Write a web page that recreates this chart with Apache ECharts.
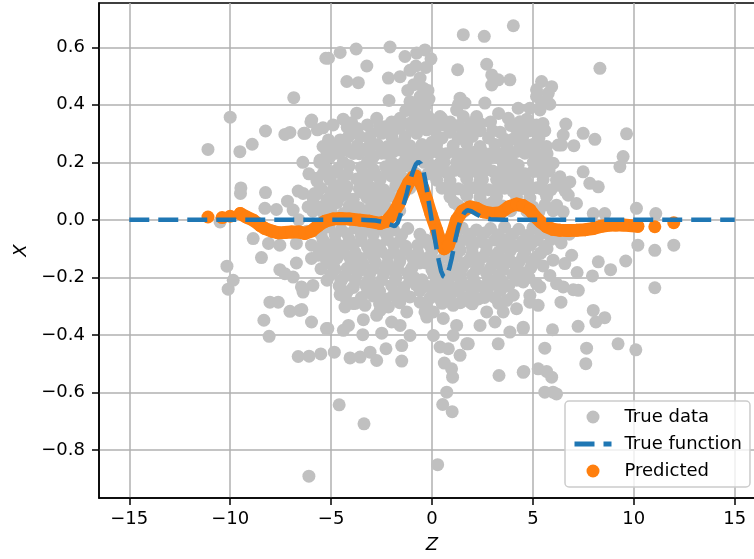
<!DOCTYPE html>
<html><head><meta charset="utf-8">
<script src="https://cdn.jsdelivr.net/npm/echarts@6/dist/echarts.min.js"></script>
<style>html,body{margin:0;padding:0;background:#fff}#c{width:754px;height:559px}</style>
</head><body><div id="c"></div>
<script>
// tick labels
const xTicks = [-15, -10, -5, 0, 5, 10, 15];
const yTicks = [-0.8, -0.6, -0.4, -0.2, 0.0, 0.2, 0.4, 0.6];

// gray noisy observations [Z, X]
const trueDataLeft = [
  [-11.1,0.245],[-10.0,0.357],[-9.52,0.237],[-8.91,0.263],[-8.25,0.309],[-7.29,0.297],[-7.04,0.304],[-6.85,0.425],[-6.35,0.301],[-6.0,0.341],[-5.68,0.313],[-5.96,0.347],[-6.29,0.301],
  [-5.56,0.2],[-9.47,0.111],[-9.49,0.092],[-8.25,0.095],[-5.7,0.135],[-6.63,0.1],[-6.39,0.092],[-5.81,0.092],[-7.16,0.065],[-6.88,0.034],[-6.14,0.045],[-8.28,0.04],[-7.71,0.036],
  [-10.5,-0.007],[-8.86,-0.065],[-8.1,-0.082],[-7.54,-0.088],[-6.72,-0.082],[-5.97,-0.088],
  [-10.16,-0.161],[-9.85,-0.21],[-10.1,-0.241],[-8.45,-0.131],[-7.54,-0.173],[-7.29,-0.187],[-6.88,-0.199],[-6.72,-0.15],[-5.97,-0.134],[-5.64,-0.123],[-6.47,-0.233],[-6.39,-0.251],
  [-8.03,-0.286],[-7.62,-0.286],[-7.04,-0.318],[-6.55,-0.315],[-8.33,-0.349],[-5.97,-0.355],[-8.07,-0.405],[-6.63,-0.475],[-6.09,-0.474],[-5.51,-0.466],[-5.23,-0.378],[-6.1,-0.891],
  [-6.45,-0.312],[-5.9,-0.228],[-6.2,-0.04],[-6.6,0.0],[-6.1,0.16],[-6.4,0.2]
];
const trueDataTop = [
  [-5.26,0.562],[-5.13,0.562],[-4.55,0.582],[-3.76,0.594],[-3.23,0.535],[-4.22,0.481],[-3.65,0.477],[-2.08,0.601],[-1.34,0.568],[-0.76,0.58],[-0.35,0.591],
  [-2.16,0.493],[-1.58,0.498],[-1.09,0.52],[-0.59,0.493],[-0.43,0.458],[-0.59,0.429],[-1.0,0.406],[-0.84,0.365],[-2.13,0.415],[-1.09,0.411],[-0.59,0.417],[-0.35,0.394],
  [-3.73,0.371],[-3.98,0.338],[-2.74,0.353],[-2.33,0.324],[-1.58,0.353],[-1.09,0.336],[-0.59,0.347],[0.4,0.359],
  [-0.2,0.45],[-0.9,0.47],[-0.3,0.53],[-0.8,0.535],[-0.15,0.42],[-0.7,0.385],[-0.25,0.33],[-1.2,0.45],[-0.05,0.56],[-1.3,0.38],[-0.4,0.36],
  [1.55,0.644],[2.59,0.638],[4.03,0.675],[1.27,0.522],[2.71,0.541],[2.96,0.504],[3.28,0.487],[3.86,0.487],[2.96,0.469],[5.43,0.481],[5.18,0.452],[5.76,0.44],[5.76,0.406],
  [1.39,0.423],[1.3,0.4],[1.63,0.406],[2.62,0.406],[1.22,0.382],[4.27,0.388],[4.85,0.388],[5.35,0.382],[0.48,0.353],[1.55,0.359],[2.21,0.359],[3.78,0.353],[4.36,0.341],[5.18,0.33],
  [8.32,0.527],[5.93,0.463],[5.18,0.429],[5.43,0.406],[5.84,0.402]
];
const trueDataRight = [
  [6.63,0.333],[6.5,0.295],[6.42,0.26],[7.03,0.258],[7.49,0.301],[8.07,0.28],[9.64,0.299],[9.47,0.22],[9.31,0.185],[5.1,0.324],[5.18,0.266],[5.18,0.208],[6.0,0.197],
  [5.76,0.173],[6.34,0.15],[6.83,0.132],[7.49,0.167],[7.82,0.127],[8.24,0.115],[6.75,0.086],[7.16,0.057],[6.17,0.051],[6.5,0.028],[7.99,0.022],[8.56,0.022],[10.13,0.04],[11.09,0.022],[6.25,0.26],
  [10.2,-0.088],[11.04,-0.106],[11.98,-0.088],[11.04,-0.236],[9.6,-0.143],[8.85,-0.173],[8.24,-0.146],[7.95,-0.195],[7.19,-0.183],[7.99,-0.315],[8.56,-0.34],[8.12,-0.355],[7.24,-0.37],
  [5.97,-0.382],[9.22,-0.431],[10.1,-0.452],[7.66,-0.446],[7.62,-0.5],[5.59,-0.446],[4.55,-0.527],[5.26,-0.518],[5.68,-0.527],[5.93,-0.547],[5.59,-0.599],[6.0,-0.599],[6.17,-0.605],
  [6.39,-0.286],[7.0,-0.243],[7.25,-0.245],[5.26,-0.297],[4.52,-0.378],[4.93,-0.146],[5.35,-0.117],[6.0,-0.14],[6.58,-0.152],[6.92,-0.123],[5.84,-0.193],[6.17,-0.222],[6.5,-0.233],
  [5.18,-0.222],[4.85,-0.262],[6.4,-0.08],[6.8,-0.05],[6.6,0.1],[6.3,0.12]
];
const trueDataBottom = [
  [-4.6,-0.643],[-3.37,-0.709],[0.28,-0.851],[0.53,-0.642],[1.0,-0.667],[0.73,-0.599],[3.32,-0.541],[4.52,-0.53],[0.61,-0.498],[0.97,-0.518],[1.02,-0.547],[3.28,-0.431],
  [1.72,-0.431],[1.39,-0.471],[0.4,-0.442],[0.81,-0.448],[0.07,-0.402],[1.05,-0.402],[-1.5,-0.491],[-2.74,-0.489],[-3.07,-0.46],[-3.56,-0.477],[-4.06,-0.48],[-4.84,-0.46],
  [-2.28,-0.448],[-1.5,-0.437],[-1.09,-0.402],[-2.49,-0.394],[-3.43,-0.399],[-4.39,-0.384],[-4.14,-0.367],[-5.16,-0.378],[-0.26,-0.338],[-0.35,-0.32],[-3.4,-0.347],
  [-2.74,-0.332],[-2.0,-0.355],[-1.58,-0.367],[-1.25,-0.32],[-4.31,-0.303],[-3.9,-0.291],[-3.32,-0.297],[-2.57,-0.315],[-2.16,-0.303],[-4.55,-0.26],[-1.92,-0.262],[-1.34,-0.262],
  [-0.59,-0.286],[0.07,-0.32],[0.56,-0.343],[1.22,-0.367],[2.38,-0.367],[3.12,-0.355],[3.86,-0.39],[4.52,-0.373],[0.4,-0.274],[1.05,-0.297],[1.88,-0.286],[2.71,-0.32],
  [3.53,-0.32],[4.19,-0.309],[4.85,-0.286],[5.35,-0.233],[1.39,-0.228],[2.05,-0.233],[2.71,-0.251],[3.53,-0.228],[4.03,-0.262],[4.52,-0.216],[1.8,-0.431]
];
const trueDataCoreUpper = [
  [-5.13,0.278],[-4.55,0.278],[-4.14,0.289],[-3.56,0.289],[-3.07,0.278],[-2.49,0.301],[-2.0,0.289],[-1.34,0.289],[-0.76,0.301],[-0.26,0.313],[0.23,0.324],
  [-5.54,0.208],[-5.05,0.22],[-4.39,0.243],[-3.9,0.231],[-3.4,0.243],[-2.9,0.22],[-2.24,0.231],[-1.58,0.243],[-0.92,0.22],[-0.26,0.231],[0.23,0.243],
  [-5.7,0.145],[-5.05,0.14],[-4.39,0.15],[-3.73,0.142],[-3.15,0.148],[-2.57,0.14],[-2.0,0.152],[-1.42,0.145],
  [-5.89,0.075],[-5.21,0.07],[-4.55,0.08],[-3.9,0.072],[-3.23,0.078],[-2.57,0.07],[-2.08,0.082],
  [-5.4,0.027],[-4.39,0.022],[-3.4,0.03],[-2.74,0.025],
  [-5.4,0.255],[-4.8,0.25],[-4.3,0.262],[-3.7,0.258],[-3.2,0.25],[-2.7,0.262],[-2.2,0.255],[-1.7,0.265],[-1.1,0.258],[-0.5,0.262],[0.0,0.27],
  [-5.3,0.18],[-4.7,0.175],[-4.1,0.188],[-3.5,0.182],[-2.9,0.175],[-2.3,0.185],[-1.8,0.19],[-1.2,0.188],[-0.4,0.2],[-0.05,0.19],
  [-5.5,0.11],[-4.9,0.105],[-4.2,0.115],[-3.6,0.108],[-3.0,0.112],[-2.4,0.105],[-1.8,0.118],[-1.1,0.11],
  [-5.6,0.045],[-5.0,0.05],[-4.1,0.048],[-3.6,0.042],[-3.0,0.05],[-2.3,0.045],
  [-5.4,0.32],[-4.2,0.322],[-3.7,0.318],[-2.6,0.325],[-1.6,0.32],[-1.0,0.315],[-0.5,0.322],[0.0,0.33],
  [-5.2,0.235],[-4.7,0.232],[-4.1,0.238],[-3.6,0.23],[-3.1,0.236],[-2.5,0.232],[-1.9,0.238],[-1.3,0.23],[-0.6,0.236],[-0.1,0.232],
  [-5.4,0.16],[-4.8,0.165],[-4.2,0.158],[-3.4,0.162],[-2.8,0.158],[-2.2,0.165],[-1.6,0.16],[-0.9,0.165],[-0.2,0.16],
  [-5.7,0.09],[-5.0,0.092],[-4.3,0.088],[-3.4,0.094],[-2.8,0.088],[-2.2,0.092],[-1.5,0.09],
  [-5.9,0.03],[-5.0,0.032],[-3.9,0.028],[-3.1,0.034],[-2.2,0.03],[-1.6,0.032],
  [0.15,0.31],[0.89,0.305],[1.8,0.315],[2.38,0.31],[3.37,0.305],[4.19,0.315],[4.85,0.31],[5.59,0.31],
  [0.23,0.262],[1.05,0.258],[1.72,0.265],[2.38,0.255],[3.12,0.262],[3.7,0.258],[4.36,0.265],[5.18,0.27],[5.68,0.255],
  [0.4,0.197],[1.22,0.2],[2.04,0.195],[2.71,0.205],[3.53,0.197],[4.27,0.19],[5.02,0.2],[5.59,0.197],
  [0.23,0.138],[0.89,0.135],[1.72,0.142],[2.38,0.135],[3.2,0.14],[4.03,0.138],[4.69,0.132],[5.51,0.14],[6.17,0.138],
  [0.89,0.08],[1.72,0.083],[2.38,0.078],[3.2,0.082],[4.19,0.08],[4.85,0.076],[5.68,0.082],
  [0.5,0.285],[1.3,0.282],[2.0,0.29],[2.8,0.285],[3.6,0.28],[4.5,0.29],[5.3,0.285],
  [0.7,0.23],[1.4,0.228],[2.1,0.235],[2.9,0.23],[3.8,0.225],[4.6,0.232],[5.3,0.228],
  [0.7,0.165],[1.5,0.168],[2.3,0.162],[3.0,0.17],[3.8,0.165],[4.6,0.16],[5.3,0.168],
  [0.5,0.11],[1.3,0.108],[2.0,0.112],[2.8,0.105],[3.6,0.11],[4.4,0.108],[5.2,0.112],[5.9,0.105],
  [1.3,0.05],[2.0,0.045],[2.7,0.052],[3.5,0.048],[4.3,0.05],[5.0,0.045],[5.6,0.052],
  [0.6,0.33],[1.3,0.328],[2.4,0.335],[3.9,0.328],[4.4,0.322],[5.0,0.33],[5.5,0.335],
  [0.3,0.235],[1.0,0.238],[1.8,0.232],[2.5,0.236],[3.3,0.23],[4.2,0.238],[5.0,0.234],[5.7,0.23],
  [0.3,0.17],[1.1,0.172],[1.9,0.168],[2.6,0.172],[3.4,0.168],[4.2,0.174],[5.0,0.168],[5.8,0.17],
  [0.9,0.1],[1.6,0.102],[2.4,0.098],[3.2,0.104],[4.0,0.1],[4.8,0.098],[5.5,0.104],
  [1.6,0.03],[2.3,0.032],[3.1,0.028],[3.9,0.032],[4.7,0.03],[5.3,0.028],[6.0,0.032],
  [-4.9,0.33],[-4.4,0.35],[-3.2,0.33],[-2.0,0.34],[-0.2,0.36],[0.9,0.34],[1.9,0.335],[2.9,0.34],[3.3,0.37],[4.0,0.33],[4.7,0.35],
  [-4.4,0.2],[-3.2,0.2],[-2.0,0.2],[-0.8,0.16],[-4.6,0.12],[-3.3,0.12],[-2.6,0.1],[-1.4,0.2],[-0.5,0.24],[0.6,0.2],[1.6,0.2],[2.4,0.2],[3.2,0.22],[4.0,0.2],
  [4.9,0.26],[1.5,0.3],[3.0,0.31],[4.0,0.28],[-3.0,0.3],[-4.0,0.31],[-1.9,0.31],[2.5,0.14],[3.6,0.13],[4.4,0.14],[1.1,0.06],[3.0,0.06],[-4.7,0.06],[-2.6,0.05]
];
const trueDataCoreLower = [
  [-5.8,-0.03],[-5.1,-0.025],[-4.5,-0.035],[-3.8,-0.028],[-3.2,-0.032],[-2.6,-0.025],[-1.9,-0.035],[-1.2,-0.03],[1.5,-0.028],[2.2,-0.035],[2.9,-0.03],[3.6,-0.025],[4.3,-0.033],[5.0,-0.028],[5.7,-0.035],
  [-5.4,-0.07],[-4.8,-0.075],[-4.1,-0.068],[-3.5,-0.072],[-2.9,-0.078],[-2.2,-0.068],[-1.6,-0.074],[-0.3,-0.07],[1.0,-0.072],[1.7,-0.068],[2.4,-0.075],[3.1,-0.07],[3.8,-0.066],[4.5,-0.074],[5.2,-0.07],[5.9,-0.068],
  [-5.0,-0.11],[-4.4,-0.105],[-3.8,-0.115],[-3.1,-0.108],[-1.9,-0.112],[-1.3,-0.105],[-0.7,-0.115],[0.0,-0.11],[0.9,-0.112],[1.4,-0.105],[2.0,-0.115],[2.7,-0.108],[3.3,-0.112],[3.9,-0.105],[4.6,-0.11],[5.4,-0.115],
  [-5.2,-0.15],[-4.0,-0.145],[-3.4,-0.155],[-2.8,-0.148],[-2.2,-0.152],[-1.6,-0.145],[-0.9,-0.155],[-0.3,-0.15],[0.3,-0.145],[1.0,-0.152],[1.7,-0.148],[2.3,-0.155],[3.0,-0.145],[3.6,-0.152],[4.3,-0.148],
  [-5.0,-0.19],[-4.3,-0.195],[-3.7,-0.185],[-3.1,-0.192],[-2.4,-0.188],[-1.8,-0.195],[-1.2,-0.185],[0.1,-0.19],[0.7,-0.195],[1.4,-0.188],[2.0,-0.192],[2.7,-0.185],[3.3,-0.195],[4.0,-0.19],[4.6,-0.185],
  [-4.6,-0.23],[-3.9,-0.235],[-3.3,-0.225],[-2.7,-0.232],[-2.0,-0.228],[-1.4,-0.235],[-0.8,-0.225],[-0.2,-0.232],[0.4,-0.228],[1.0,-0.235],[1.7,-0.228],[2.4,-0.232],[3.0,-0.225],
  [-3.5,-0.27],[-2.9,-0.265],[-2.3,-0.275],[-1.1,-0.268],[-0.1,-0.272],[0.9,-0.265],[2.3,-0.275],[3.1,-0.27],
  [-5.5,-0.05],[-4.8,-0.052],[-4.2,-0.048],[-3.5,-0.054],[-2.9,-0.05],[-2.3,-0.046],[-1.5,-0.052],[-0.6,-0.05],[0.2,-0.048],[1.2,-0.054],[1.9,-0.05],[2.6,-0.046],[3.3,-0.052],[4.0,-0.05],[4.7,-0.054],[5.4,-0.048],[6.1,-0.05],
  [-5.1,-0.09],[-4.5,-0.092],[-3.9,-0.088],[-3.2,-0.094],[-2.6,-0.09],[-1.9,-0.086],[-1.3,-0.092],[-0.7,-0.088],[0.4,-0.092],[1.3,-0.09],[2.0,-0.094],[2.7,-0.088],[3.5,-0.092],[4.2,-0.09],[4.9,-0.086],[5.6,-0.092],
  [-5.3,-0.13],[-4.7,-0.132],[-4.1,-0.128],[-3.5,-0.134],[-2.9,-0.13],[-2.2,-0.126],[-1.6,-0.132],[-1.0,-0.128],[-0.3,-0.134],[0.6,-0.13],[1.2,-0.128],[1.9,-0.134],[2.5,-0.13],[3.2,-0.126],[3.8,-0.132],[4.5,-0.128],[5.1,-0.134],
  [-5.5,-0.17],[-4.8,-0.172],[-4.2,-0.168],[-3.6,-0.174],[-2.9,-0.17],[-2.3,-0.166],[-1.7,-0.172],[-1.0,-0.168],[0.0,-0.174],[0.8,-0.17],[1.5,-0.166],[2.2,-0.172],[2.9,-0.168],[3.5,-0.174],[4.2,-0.17],[4.9,-0.166],
  [-5.2,-0.21],[-4.5,-0.212],[-3.8,-0.208],[-3.1,-0.214],[-2.5,-0.21],[-1.8,-0.206],[-1.1,-0.212],[-0.5,-0.208],[0.2,-0.214],[0.8,-0.21],[1.4,-0.206],[2.1,-0.212],[2.8,-0.208],[3.5,-0.214],[4.2,-0.21],
  [-4.2,-0.25],[-3.2,-0.252],[-2.6,-0.248],[-1.7,-0.254],[-1.4,-0.25],[-0.6,-0.246],[0.6,-0.252],[1.3,-0.248],[2.0,-0.254],[2.7,-0.25],[3.4,-0.246],
  [-3.8,-0.29],[-2.6,-0.292],[-1.6,-0.288],[-0.3,-0.294],[0.5,-0.29],[1.4,-0.288],[2.0,-0.292],[3.3,-0.29],
  [-4.9,-0.155],[-3.7,-0.15],[-2.5,-0.11],[-0.6,-0.15],[0.6,-0.07],[1.9,-0.07],[3.4,-0.15],[4.0,-0.15],[4.8,-0.2],[3.8,-0.23],[-1.7,-0.28],[1.7,-0.27],[2.6,-0.27],
  [-3.1,-0.25],[-0.9,-0.2],[-0.1,-0.09],[0.4,-0.17],[1.1,-0.19],[-2.0,-0.17],[-4.5,-0.21],[5.5,-0.16],[5.7,-0.1],[-5.6,-0.1],[-4.3,-0.27],[0.2,-0.24],[3.7,-0.28]
];

// true function (blue dashed)
const trueFnZ = [-15, -3.5, -2.8, -2.4, -2.1, -1.85, -1.7, -1.55, -1.4, -1.25, -1.1, -0.92, -0.8, -0.68, -0.55, -0.43, -0.3, -0.18, -0.05, 0.07, 0.2, 0.33, 0.45, 0.56, 0.66, 0.76, 0.87, 0.97, 1.07, 1.17, 1.3, 1.45, 1.6, 1.75, 1.95, 2.2, 2.5, 2.9, 3.5, 15];
const trueFnX = [0, 0, -0.002, -0.008, -0.016, -0.022, -0.01, 0.02, 0.055, 0.092, 0.135, 0.173, 0.193, 0.202, 0.195, 0.173, 0.125, 0.069, 0.015, -0.036, -0.09, -0.14, -0.178, -0.196, -0.2, -0.19, -0.165, -0.135, -0.1, -0.065, -0.025, 0.005, 0.025, 0.034, 0.03, 0.02, 0.008, 0.002, 0, 0];

// predicted (orange)
const predZ = [-11.1, -10.4, -10.0, -9.5, -9.2, -8.86, -8.5, -8.28, -7.9, -7.62, -7.3, -6.96, -6.6, -6.3, -5.95, -5.64, -5.3, -4.9, -4.55, -4.1, -3.56, -3.1, -2.57, -2.25, -1.92, -1.65, -1.42, -1.15, -0.92, -0.8, -0.65, -0.45, -0.26, -0.05, 0.23, 0.4, 0.6, 0.8, 1.0, 1.22, 1.5, 1.88, 2.2, 2.54, 3.03, 3.4, 3.8, 4.19, 4.5, 4.85, 5.1, 5.4, 5.68, 6.0, 6.34, 6.75, 7.16, 7.6, 7.99, 8.4, 8.81, 9.1, 9.47, 10.2, 11.04, 11.98];
const predX = [0.01, 0.008, 0.013, 0.022, 0.01, -0.001, -0.02, -0.03, -0.04, -0.045, -0.044, -0.042, -0.042, -0.047, -0.038, -0.02, -0.005, 0.003, 0.005, 0.003, -0.001, -0.005, -0.012, -0.005, 0.022, 0.055, 0.092, 0.13, 0.15, 0.152, 0.14, 0.11, 0.069, 0.02, -0.036, -0.075, -0.1, -0.09, -0.05, 0.0, 0.03, 0.045, 0.04, 0.028, 0.022, 0.025, 0.045, 0.055, 0.05, 0.035, 0.012, -0.008, -0.024, -0.033, -0.036, -0.037, -0.036, -0.034, -0.03, -0.022, -0.018, -0.018, -0.018, -0.022, -0.024, -0.01];

const trueData = [].concat(trueDataLeft, trueDataTop, trueDataRight, trueDataBottom, trueDataCoreUpper, trueDataCoreLower);
const trueFn = trueFnZ.map((z, i) => [z, trueFnX[i]]);
const pred = predZ.map((z, i) => [z, predX[i]]);
const predBand = pred.filter(p => p[0] >= -9.6 && p[0] <= 10.3);

const FONT = 'DejaVu Sans';
const minus = s => String(s).replace('-', '\u2212');
const DASH = [20, 9];

const chart = echarts.init(document.getElementById('c'), null, { renderer: 'canvas' });
chart.setOption({
  animation: false,
  backgroundColor: '#ffffff',
  grid: { left: 99, top: 3, right: -11, bottom: 61, show: true, borderColor: '#000', borderWidth: 1.5, backgroundColor: 'transparent', outerBoundsMode: 'none', containLabel: false },
  xAxis: {
    type: 'value', min: -16.5, max: 16.5,
    name: 'Z', nameLocation: 'middle', nameGap: 38,
    nameTextStyle: { fontFamily: FONT, fontSize: 18, fontStyle: 'italic', color: '#000' },
    axisLine: { show: true, onZero: false, lineStyle: { color: '#000', width: 1.5 } },
    axisTick: { show: true, length: 7, customValues: xTicks, lineStyle: { color: '#000', width: 1.5 } },
    axisLabel: { customValues: xTicks, margin: 12, fontFamily: FONT, fontSize: 18, color: '#000', formatter: v => minus(v) },
    splitLine: { show: true, lineStyle: { color: '#b0b0b0', width: 1.5 } }
  },
  yAxis: {
    type: 'value', min: -0.967, max: 0.754,
    name: 'X', nameLocation: 'middle', nameGap: 66, nameRotate: 90,
    nameTextStyle: { fontFamily: FONT, fontSize: 18, fontStyle: 'italic', color: '#000' },
    axisLine: { show: true, onZero: false, lineStyle: { color: '#000', width: 1.5 } },
    axisTick: { show: true, length: 7, customValues: yTicks, lineStyle: { color: '#000', width: 1.5 } },
    axisLabel: { customValues: yTicks, margin: 14, fontFamily: FONT, fontSize: 18, color: '#000', formatter: v => minus(v.toFixed(1)) },
    splitLine: { show: true, lineStyle: { color: '#b0b0b0', width: 1.5 } }
  },
  legend: {
    orient: 'vertical', left: 565, top: 401,
    padding: [6, 8, 6, 7], itemGap: 7, itemWidth: 37, itemHeight: 13,
    backgroundColor: 'rgba(255,255,255,0.8)', borderColor: '#cccccc', borderWidth: 1.5, borderRadius: 4,
    textStyle: { fontFamily: FONT, fontSize: 18, color: '#000', lineHeight: 20, padding: [0, 0, 0, 8] },
    lineStyle: { width: 5, type: DASH, color: '#1f77b4' },
    data: [
      { name: 'True data' },
      { name: 'True function', itemStyle: { opacity: 0, borderWidth: 0 } },
      { name: 'Predicted' }
    ]
  },
  series: [
    { name: 'True data', type: 'scatter', data: trueData, symbol: 'circle', symbolSize: 13, itemStyle: { color: '#c0c0c0', opacity: 1 }, z: 2, silent: true },
    { name: 'Predicted band', type: 'line', data: predBand, symbol: 'none', lineStyle: { color: '#ff7f0e', width: 13, cap: 'round', join: 'round' }, z: 3, silent: true },
    { name: 'Predicted', type: 'scatter', data: pred, symbol: 'circle', symbolSize: 13, itemStyle: { color: '#ff7f0e', opacity: 1 }, z: 4, silent: true },
    { name: 'True function', type: 'line', data: trueFn, symbol: 'none', lineStyle: { color: '#1f77b4', width: 4.5, type: DASH }, itemStyle: { color: '#1f77b4' }, z: 5, silent: true }
  ]
});
</script>
</body></html>
